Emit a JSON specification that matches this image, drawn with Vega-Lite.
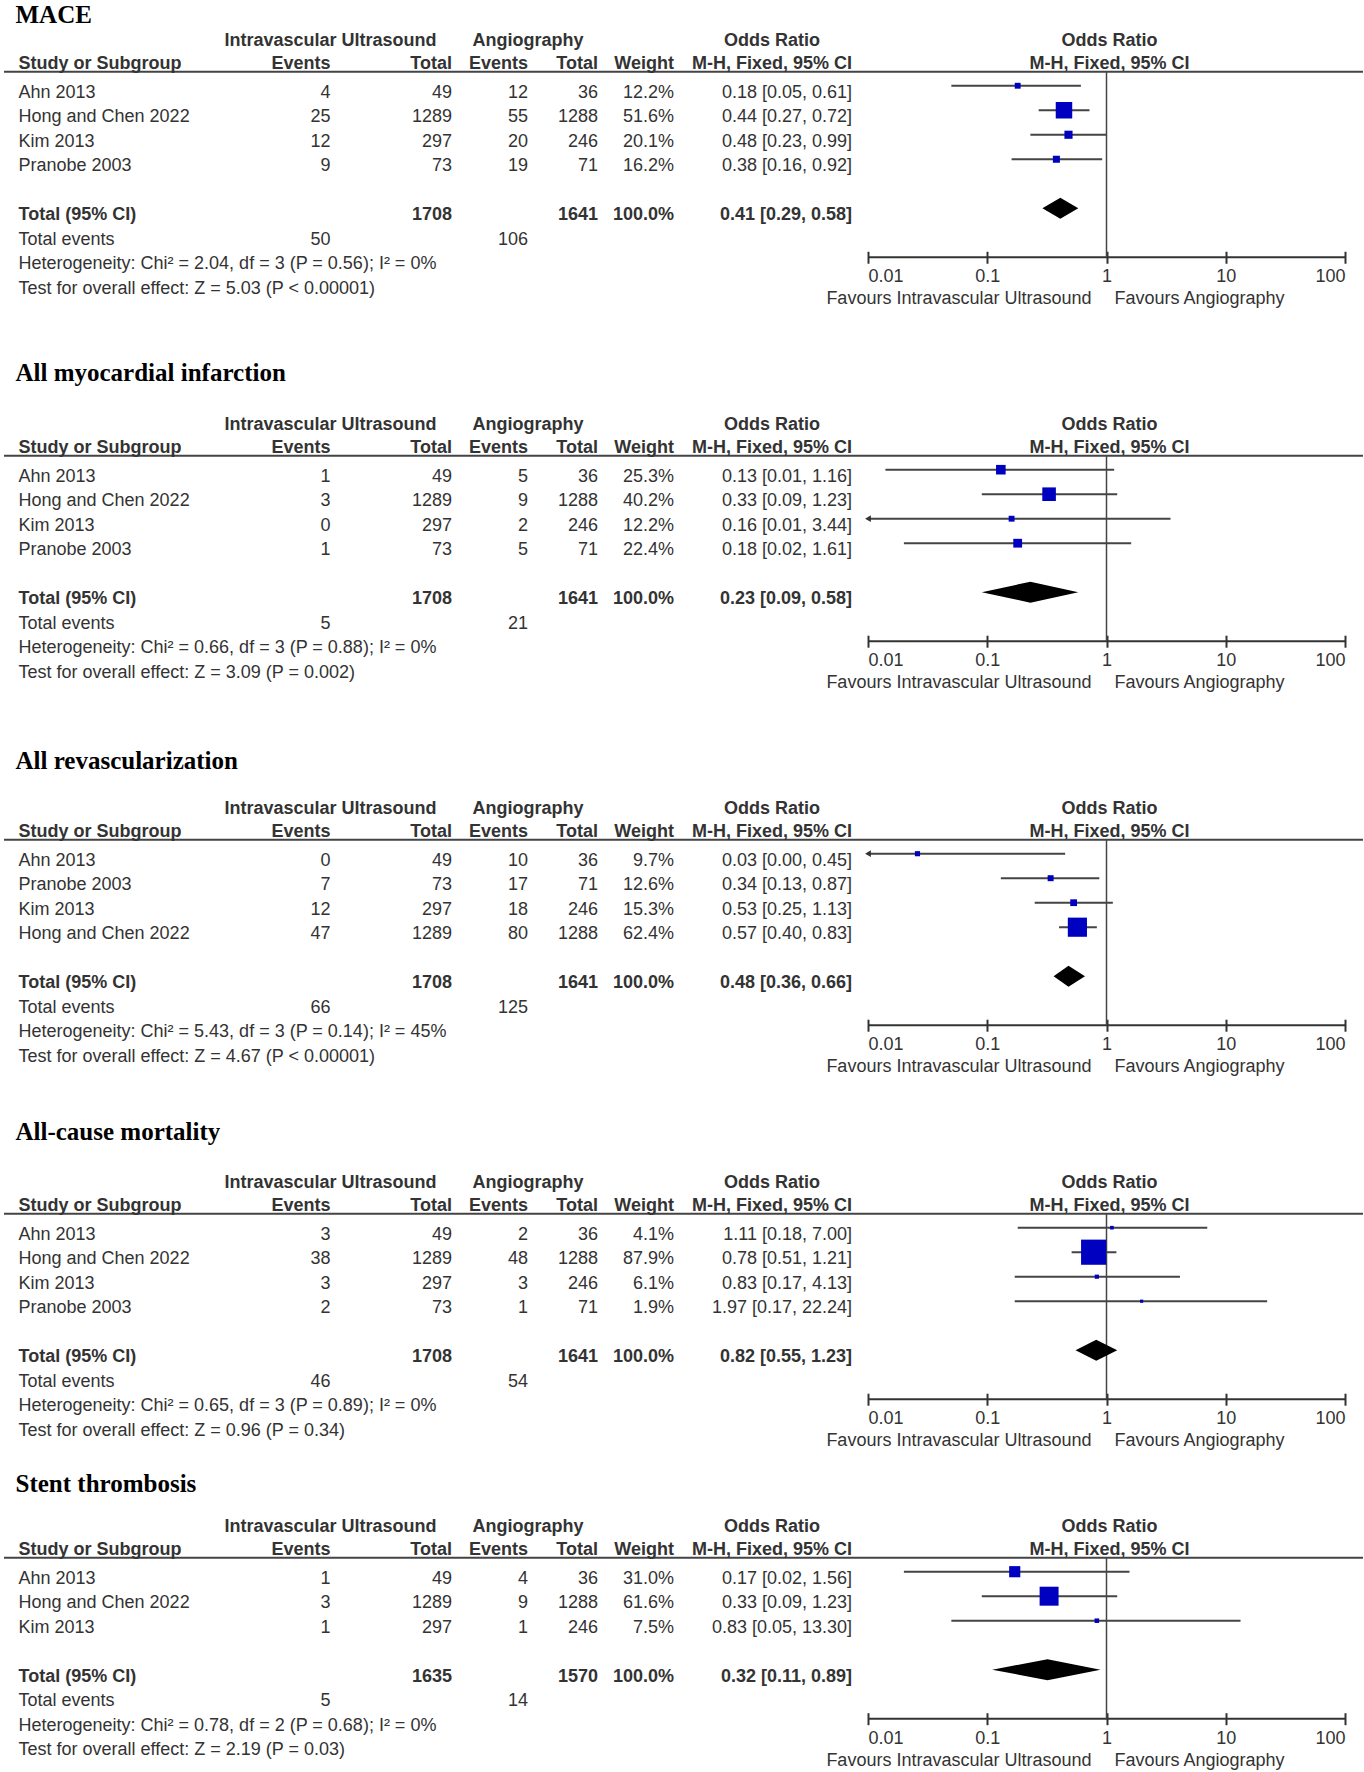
{
"$schema":"https://vega.github.io/schema/vega-lite/v6.json",
"padding":0,
"spacing":0,
"bounds":"flush",
"background":"white",
"config":{"view":{"stroke":null},"axis":{"grid":false},"text":{"font":"Liberation Sans","fontSize":18,"color":"#333","baseline":"alphabetic","dy":12,"align":"right"}},
"datasets":{
"headers":[
{"label":"Intravascular Ultrasound","col":2,"row":-2,"a":"c"},
{"label":"Angiography","col":4,"row":-2,"a":"c"},
{"label":"Odds Ratio","col":7,"row":-2,"a":"c"},
{"label":"M-H, Fixed, 95% CI","col":7,"row":-1,"a":"c"},
{"label":"Study or Subgroup","col":1,"row":-1,"a":"l"},
{"label":"Events","col":2,"row":-1,"a":"r"},
{"label":"Total","col":3,"row":-1,"a":"r"},
{"label":"Events","col":4,"row":-1,"a":"r"},
{"label":"Total","col":5,"row":-1,"a":"r"},
{"label":"Weight","col":6,"row":-1,"a":"r"},
{"label":"Odds Ratio","row":-2,"a":"f"},
{"label":"M-H, Fixed, 95% CI","row":-1,"a":"f"}
],
"rows":[
{"o":"MACE","k":"title","row":-3,"label":"MACE"},
{"o":"MACE","k":"study","row":0,"label":"Ahn 2013","e1":4,"n1":49,"e2":12,"n2":36,"wt":0.122,"ci":"0.18 [0.05, 0.61]","est":0.18,"lo":0.05,"hi":0.61},
{"o":"MACE","k":"study","row":1,"label":"Hong and Chen 2022","e1":25,"n1":1289,"e2":55,"n2":1288,"wt":0.516,"ci":"0.44 [0.27, 0.72]","est":0.44,"lo":0.27,"hi":0.72},
{"o":"MACE","k":"study","row":2,"label":"Kim 2013","e1":12,"n1":297,"e2":20,"n2":246,"wt":0.201,"ci":"0.48 [0.23, 0.99]","est":0.48,"lo":0.23,"hi":0.99},
{"o":"MACE","k":"study","row":3,"label":"Pranobe 2003","e1":9,"n1":73,"e2":19,"n2":71,"wt":0.162,"ci":"0.38 [0.16, 0.92]","est":0.38,"lo":0.16,"hi":0.92},
{"o":"MACE","k":"total","row":5,"label":"Total (95% CI)","n1":1708,"n2":1641,"wt":1,"ci":"0.41 [0.29, 0.58]","est":0.41,"lo":0.29,"hi":0.58},
{"o":"MACE","k":"events","row":6,"label":"Total events","e1":50,"e2":106},
{"o":"MACE","k":"note","row":7,"label":"Heterogeneity: Chi² = 2.04, df = 3 (P = 0.56); I² = 0%"},
{"o":"MACE","k":"note","row":8,"label":"Test for overall effect: Z = 5.03 (P < 0.00001)"},
{"o":"MI","k":"title","row":-3,"label":"All myocardial infarction"},
{"o":"MI","k":"study","row":0,"label":"Ahn 2013","e1":1,"n1":49,"e2":5,"n2":36,"wt":0.253,"ci":"0.13 [0.01, 1.16]","est":0.13,"lo":0.014,"hi":1.16},
{"o":"MI","k":"study","row":1,"label":"Hong and Chen 2022","e1":3,"n1":1289,"e2":9,"n2":1288,"wt":0.402,"ci":"0.33 [0.09, 1.23]","est":0.33,"lo":0.09,"hi":1.23},
{"o":"MI","k":"study","row":2,"label":"Kim 2013","e1":0,"n1":297,"e2":2,"n2":246,"wt":0.122,"ci":"0.16 [0.01, 3.44]","est":0.16,"lo":0.008,"hi":3.44},
{"o":"MI","k":"study","row":3,"label":"Pranobe 2003","e1":1,"n1":73,"e2":5,"n2":71,"wt":0.224,"ci":"0.18 [0.02, 1.61]","est":0.18,"lo":0.02,"hi":1.61},
{"o":"MI","k":"total","row":5,"label":"Total (95% CI)","n1":1708,"n2":1641,"wt":1,"ci":"0.23 [0.09, 0.58]","est":0.23,"lo":0.09,"hi":0.58},
{"o":"MI","k":"events","row":6,"label":"Total events","e1":5,"e2":21},
{"o":"MI","k":"note","row":7,"label":"Heterogeneity: Chi² = 0.66, df = 3 (P = 0.88); I² = 0%"},
{"o":"MI","k":"note","row":8,"label":"Test for overall effect: Z = 3.09 (P = 0.002)"},
{"o":"REV","k":"title","row":-3,"label":"All revascularization"},
{"o":"REV","k":"study","row":0,"label":"Ahn 2013","e1":0,"n1":49,"e2":10,"n2":36,"wt":0.097,"ci":"0.03 [0.00, 0.45]","est":0.026,"lo":0.0017,"hi":0.45},
{"o":"REV","k":"study","row":1,"label":"Pranobe 2003","e1":7,"n1":73,"e2":17,"n2":71,"wt":0.126,"ci":"0.34 [0.13, 0.87]","est":0.34,"lo":0.13,"hi":0.87},
{"o":"REV","k":"study","row":2,"label":"Kim 2013","e1":12,"n1":297,"e2":18,"n2":246,"wt":0.153,"ci":"0.53 [0.25, 1.13]","est":0.53,"lo":0.25,"hi":1.13},
{"o":"REV","k":"study","row":3,"label":"Hong and Chen 2022","e1":47,"n1":1289,"e2":80,"n2":1288,"wt":0.624,"ci":"0.57 [0.40, 0.83]","est":0.57,"lo":0.4,"hi":0.83},
{"o":"REV","k":"total","row":5,"label":"Total (95% CI)","n1":1708,"n2":1641,"wt":1,"ci":"0.48 [0.36, 0.66]","est":0.48,"lo":0.36,"hi":0.66},
{"o":"REV","k":"events","row":6,"label":"Total events","e1":66,"e2":125},
{"o":"REV","k":"note","row":7,"label":"Heterogeneity: Chi² = 5.43, df = 3 (P = 0.14); I² = 45%"},
{"o":"REV","k":"note","row":8,"label":"Test for overall effect: Z = 4.67 (P < 0.00001)"},
{"o":"MORT","k":"title","row":-3,"label":"All-cause mortality"},
{"o":"MORT","k":"study","row":0,"label":"Ahn 2013","e1":3,"n1":49,"e2":2,"n2":36,"wt":0.041,"ci":"1.11 [0.18, 7.00]","est":1.11,"lo":0.18,"hi":7.0},
{"o":"MORT","k":"study","row":1,"label":"Hong and Chen 2022","e1":38,"n1":1289,"e2":48,"n2":1288,"wt":0.879,"ci":"0.78 [0.51, 1.21]","est":0.78,"lo":0.51,"hi":1.21},
{"o":"MORT","k":"study","row":2,"label":"Kim 2013","e1":3,"n1":297,"e2":3,"n2":246,"wt":0.061,"ci":"0.83 [0.17, 4.13]","est":0.83,"lo":0.17,"hi":4.13},
{"o":"MORT","k":"study","row":3,"label":"Pranobe 2003","e1":2,"n1":73,"e2":1,"n2":71,"wt":0.019,"ci":"1.97 [0.17, 22.24]","est":1.97,"lo":0.17,"hi":22.24},
{"o":"MORT","k":"total","row":5,"label":"Total (95% CI)","n1":1708,"n2":1641,"wt":1,"ci":"0.82 [0.55, 1.23]","est":0.82,"lo":0.55,"hi":1.23},
{"o":"MORT","k":"events","row":6,"label":"Total events","e1":46,"e2":54},
{"o":"MORT","k":"note","row":7,"label":"Heterogeneity: Chi² = 0.65, df = 3 (P = 0.89); I² = 0%"},
{"o":"MORT","k":"note","row":8,"label":"Test for overall effect: Z = 0.96 (P = 0.34)"},
{"o":"ST","k":"title","row":-3,"label":"Stent thrombosis"},
{"o":"ST","k":"study","row":0,"label":"Ahn 2013","e1":1,"n1":49,"e2":4,"n2":36,"wt":0.31,"ci":"0.17 [0.02, 1.56]","est":0.17,"lo":0.02,"hi":1.56},
{"o":"ST","k":"study","row":1,"label":"Hong and Chen 2022","e1":3,"n1":1289,"e2":9,"n2":1288,"wt":0.616,"ci":"0.33 [0.09, 1.23]","est":0.33,"lo":0.09,"hi":1.23},
{"o":"ST","k":"study","row":2,"label":"Kim 2013","e1":1,"n1":297,"e2":1,"n2":246,"wt":0.075,"ci":"0.83 [0.05, 13.30]","est":0.83,"lo":0.05,"hi":13.3},
{"o":"ST","k":"total","row":4,"label":"Total (95% CI)","n1":1635,"n2":1570,"wt":1,"ci":"0.32 [0.11, 0.89]","est":0.32,"lo":0.11,"hi":0.89},
{"o":"ST","k":"events","row":5,"label":"Total events","e1":5,"e2":14},
{"o":"ST","k":"note","row":6,"label":"Heterogeneity: Chi² = 0.78, df = 2 (P = 0.68); I² = 0%"},
{"o":"ST","k":"note","row":7,"label":"Test for overall effect: Z = 2.19 (P = 0.03)"}
]
},
"vconcat":[
{"width":1364,"height":357,"data":{"name":"rows"},"transform":[{"filter":"datum.o==='MACE'"}],
"encoding":{"y":{"field":"row","type":"quantitative","axis":null,"scale":{"domain":[-4,-3,-2,-1,0,11.071],"range":[0,10.5,33.95,57.25,85.75,357],"nice":false,"zero":false}}},
"resolve":{"scale":{"x":"independent"}},
"layer":[
{"layer":[
{"transform":[{"filter":"datum.k==='title'"}],"mark":{"type":"rule","color":"#333","strokeWidth":2},"encoding":{"x":{"datum":0.01,"type":"quantitative","scale":{"type":"log","domain":[0.01,100],"range":[868,1345],"clamp":true,"nice":false},"axis":{"orient":"bottom","offset":-105.75,"values":[0.01,0.1,1,10,100],"format":"~g","domain":false,"ticks":true,"tickSize":12,"tickWidth":2,"tickColor":"#333","labels":true,"labelFlush":true,"labelFont":"Liberation Sans","labelFontSize":18,"labelColor":"#333","labelBaseline":"alphabetic","labelPadding":18.5,"title":null,"grid":false}},"x2":{"datum":100},"y":{"datum":7,"type":"quantitative","axis":null}}},
{"transform":[{"filter":"datum.k==='title'"}],"mark":{"type":"rule","color":"#444","strokeWidth":1.5},"encoding":{"x":{"datum":1,"type":"quantitative"},"y":{"datum":-0.488,"type":"quantitative","axis":null},"y2":{"datum":7}}},
{"transform":[{"filter":"datum.k==='study'"}],"mark":{"type":"rule","color":"#444","strokeWidth":2},"encoding":{"x":{"field":"lo","type":"quantitative","title":null},"x2":{"field":"hi"}}},
{"transform":[{"filter":"datum.k==='study'&&datum.lo<0.01"}],"mark":{"type":"point","shape":"triangle-left","filled":true,"color":"#333","opacity":1,"size":45},"encoding":{"x":{"field":"lo","type":"quantitative","title":null}}},
{"transform":[{"filter":"datum.k==='study'"}],"mark":{"type":"square","color":"#0000c0","opacity":1},"encoding":{"x":{"field":"est","type":"quantitative","title":null},"size":{"field":"wt","type":"quantitative","legend":null,"scale":{"type":"pow","exponent":1.62,"domain":[0,1],"range":[9,778]}}}},
{"transform":[{"filter":"datum.k==='total'"},{"fold":["lo","est","hi"]}],"mark":{"type":"area","color":"#000","opacity":1,"yOffset":{"expr":"datum.key==='est'?-10.5:0"},"y2Offset":{"expr":"datum.key==='est'?10.5:0"}},"encoding":{"x":{"field":"value","type":"quantitative","title":null},"y2":{"field":"row"}}},
{"transform":[{"filter":"datum.k==='title'"}],"mark":{"type":"text","dx":-15},"encoding":{"x":{"datum":1,"type":"quantitative"},"y":{"datum":8.43,"type":"quantitative","axis":null},"text":{"value":"Favours Intravascular Ultrasound"}}},
{"transform":[{"filter":"datum.k==='title'"}],"mark":{"type":"text","align":"left","dx":8},"encoding":{"x":{"datum":1,"type":"quantitative"},"y":{"datum":8.43,"type":"quantitative","axis":null},"text":{"value":"Favours Angiography"}}},
{"data":{"name":"headers"},"transform":[{"filter":"datum.a==='f'"}],"mark":{"type":"text","align":"center","fontWeight":"bold","dx":3},"encoding":{"x":{"datum":1,"type":"quantitative"},"text":{"field":"label"}}}
]},
{"layer":[
{"transform":[{"filter":"datum.k==='title'"}],"mark":{"type":"text","align":"left","font":"Liberation Serif","fontSize":25,"fontWeight":"bold","color":"#000","dx":-3},"encoding":{"x":{"datum":1,"type":"quantitative","axis":null,"scale":{"domain":[0,1,2,3,4,5,6,7,8,9],"range":[4,18.5,330.5,452,528,598,674,772,852,1363],"nice":false,"zero":false}},"text":{"field":"label"}}},
{"transform":[{"filter":"datum.k==='title'"}],"mark":{"type":"rule","color":"#444","strokeWidth":2},"encoding":{"x":{"datum":0,"type":"quantitative","axis":null},"x2":{"datum":9},"y":{"datum":-0.488,"type":"quantitative","axis":null}}},
{"data":{"name":"headers"},"transform":[{"filter":"datum.a==='c'"}],"mark":{"type":"text","align":"center","fontWeight":"bold"},"encoding":{"x":{"field":"col","type":"quantitative","axis":null},"text":{"field":"label"}}},
{"data":{"name":"headers"},"transform":[{"filter":"datum.a==='l'"}],"mark":{"type":"text","align":"left","fontWeight":"bold"},"encoding":{"x":{"field":"col","type":"quantitative","axis":null},"text":{"field":"label"}}},
{"data":{"name":"headers"},"transform":[{"filter":"datum.a==='r'"}],"mark":{"type":"text","fontWeight":"bold"},"encoding":{"x":{"field":"col","type":"quantitative","axis":null},"text":{"field":"label"}}},
{"transform":[{"filter":"datum.k==='study'||datum.k==='events'||datum.k==='note'"}],"mark":{"type":"text","align":"left"},"encoding":{"x":{"datum":1,"type":"quantitative","axis":null},"text":{"field":"label"}}},
{"transform":[{"filter":"datum.k==='total'"}],"mark":{"type":"text","align":"left","fontWeight":"bold"},"encoding":{"x":{"datum":1,"type":"quantitative","axis":null},"text":{"field":"label"}}},
{"transform":[{"filter":"isValid(datum.e1)"}],"mark":"text","encoding":{"x":{"datum":2,"type":"quantitative","axis":null},"text":{"field":"e1","type":"nominal"}}},
{"transform":[{"filter":"datum.k==='study'"}],"mark":"text","encoding":{"x":{"datum":3,"type":"quantitative","axis":null},"text":{"field":"n1","type":"nominal"}}},
{"transform":[{"filter":"isValid(datum.e2)"}],"mark":"text","encoding":{"x":{"datum":4,"type":"quantitative","axis":null},"text":{"field":"e2","type":"nominal"}}},
{"transform":[{"filter":"datum.k==='study'"}],"mark":"text","encoding":{"x":{"datum":5,"type":"quantitative","axis":null},"text":{"field":"n2","type":"nominal"}}},
{"transform":[{"filter":"datum.k==='study'"}],"mark":"text","encoding":{"x":{"datum":6,"type":"quantitative","axis":null},"text":{"field":"wt","type":"quantitative","format":".1%"}}},
{"transform":[{"filter":"datum.k==='study'"}],"mark":"text","encoding":{"x":{"datum":8,"type":"quantitative","axis":null},"text":{"field":"ci","type":"nominal"}}},
{"transform":[{"filter":"datum.k==='total'"}],"mark":{"type":"text","fontWeight":"bold"},"encoding":{"x":{"datum":3,"type":"quantitative","axis":null},"text":{"field":"n1","type":"nominal"}}},
{"transform":[{"filter":"datum.k==='total'"}],"mark":{"type":"text","fontWeight":"bold"},"encoding":{"x":{"datum":5,"type":"quantitative","axis":null},"text":{"field":"n2","type":"nominal"}}},
{"transform":[{"filter":"datum.k==='total'"}],"mark":{"type":"text","fontWeight":"bold"},"encoding":{"x":{"datum":6,"type":"quantitative","axis":null},"text":{"field":"wt","type":"quantitative","format":".1%"}}},
{"transform":[{"filter":"datum.k==='total'"}],"mark":{"type":"text","fontWeight":"bold"},"encoding":{"x":{"datum":8,"type":"quantitative","axis":null},"text":{"field":"ci","type":"nominal"}}}
]}
]},
{"width":1364,"height":384,"data":{"name":"rows"},"transform":[{"filter":"datum.o==='MI'"}],
"encoding":{"y":{"field":"row","type":"quantitative","axis":null,"scale":{"domain":[-5,-3,-2,-1,0,11.073],"range":[0,12.4,60.9,84.2,112.7,384],"nice":false,"zero":false}}},
"resolve":{"scale":{"x":"independent"}},
"layer":[
{"layer":[
{"transform":[{"filter":"datum.k==='title'"}],"mark":{"type":"rule","color":"#333","strokeWidth":2},"encoding":{"x":{"datum":0.01,"type":"quantitative","scale":{"type":"log","domain":[0.01,100],"range":[868,1345],"clamp":true,"nice":false},"axis":{"orient":"bottom","offset":-105.8,"values":[0.01,0.1,1,10,100],"format":"~g","domain":false,"ticks":true,"tickSize":12,"tickWidth":2,"tickColor":"#333","labels":true,"labelFlush":true,"labelFont":"Liberation Sans","labelFontSize":18,"labelColor":"#333","labelBaseline":"alphabetic","labelPadding":18.5,"title":null,"grid":false}},"x2":{"datum":100},"y":{"datum":7,"type":"quantitative","axis":null}}},
{"transform":[{"filter":"datum.k==='title'"}],"mark":{"type":"rule","color":"#444","strokeWidth":1.5},"encoding":{"x":{"datum":1,"type":"quantitative"},"y":{"datum":-0.488,"type":"quantitative","axis":null},"y2":{"datum":7}}},
{"transform":[{"filter":"datum.k==='study'"}],"mark":{"type":"rule","color":"#444","strokeWidth":2},"encoding":{"x":{"field":"lo","type":"quantitative","title":null},"x2":{"field":"hi"}}},
{"transform":[{"filter":"datum.k==='study'&&datum.lo<0.01"}],"mark":{"type":"point","shape":"triangle-left","filled":true,"color":"#333","opacity":1,"size":45},"encoding":{"x":{"field":"lo","type":"quantitative","title":null}}},
{"transform":[{"filter":"datum.k==='study'"}],"mark":{"type":"square","color":"#0000c0","opacity":1},"encoding":{"x":{"field":"est","type":"quantitative","title":null},"size":{"field":"wt","type":"quantitative","legend":null,"scale":{"type":"pow","exponent":1.62,"domain":[0,1],"range":[9,778]}}}},
{"transform":[{"filter":"datum.k==='total'"},{"fold":["lo","est","hi"]}],"mark":{"type":"area","color":"#000","opacity":1,"yOffset":{"expr":"datum.key==='est'?-10.5:0"},"y2Offset":{"expr":"datum.key==='est'?10.5:0"}},"encoding":{"x":{"field":"value","type":"quantitative","title":null},"y2":{"field":"row"}}},
{"transform":[{"filter":"datum.k==='title'"}],"mark":{"type":"text","dx":-15},"encoding":{"x":{"datum":1,"type":"quantitative"},"y":{"datum":8.43,"type":"quantitative","axis":null},"text":{"value":"Favours Intravascular Ultrasound"}}},
{"transform":[{"filter":"datum.k==='title'"}],"mark":{"type":"text","align":"left","dx":8},"encoding":{"x":{"datum":1,"type":"quantitative"},"y":{"datum":8.43,"type":"quantitative","axis":null},"text":{"value":"Favours Angiography"}}},
{"data":{"name":"headers"},"transform":[{"filter":"datum.a==='f'"}],"mark":{"type":"text","align":"center","fontWeight":"bold","dx":3},"encoding":{"x":{"datum":1,"type":"quantitative"},"text":{"field":"label"}}}
]},
{"layer":[
{"transform":[{"filter":"datum.k==='title'"}],"mark":{"type":"text","align":"left","font":"Liberation Serif","fontSize":25,"fontWeight":"bold","color":"#000","dx":-3},"encoding":{"x":{"datum":1,"type":"quantitative","axis":null,"scale":{"domain":[0,1,2,3,4,5,6,7,8,9],"range":[4,18.5,330.5,452,528,598,674,772,852,1363],"nice":false,"zero":false}},"text":{"field":"label"}}},
{"transform":[{"filter":"datum.k==='title'"}],"mark":{"type":"rule","color":"#444","strokeWidth":2},"encoding":{"x":{"datum":0,"type":"quantitative","axis":null},"x2":{"datum":9},"y":{"datum":-0.488,"type":"quantitative","axis":null}}},
{"data":{"name":"headers"},"transform":[{"filter":"datum.a==='c'"}],"mark":{"type":"text","align":"center","fontWeight":"bold"},"encoding":{"x":{"field":"col","type":"quantitative","axis":null},"text":{"field":"label"}}},
{"data":{"name":"headers"},"transform":[{"filter":"datum.a==='l'"}],"mark":{"type":"text","align":"left","fontWeight":"bold"},"encoding":{"x":{"field":"col","type":"quantitative","axis":null},"text":{"field":"label"}}},
{"data":{"name":"headers"},"transform":[{"filter":"datum.a==='r'"}],"mark":{"type":"text","fontWeight":"bold"},"encoding":{"x":{"field":"col","type":"quantitative","axis":null},"text":{"field":"label"}}},
{"transform":[{"filter":"datum.k==='study'||datum.k==='events'||datum.k==='note'"}],"mark":{"type":"text","align":"left"},"encoding":{"x":{"datum":1,"type":"quantitative","axis":null},"text":{"field":"label"}}},
{"transform":[{"filter":"datum.k==='total'"}],"mark":{"type":"text","align":"left","fontWeight":"bold"},"encoding":{"x":{"datum":1,"type":"quantitative","axis":null},"text":{"field":"label"}}},
{"transform":[{"filter":"isValid(datum.e1)"}],"mark":"text","encoding":{"x":{"datum":2,"type":"quantitative","axis":null},"text":{"field":"e1","type":"nominal"}}},
{"transform":[{"filter":"datum.k==='study'"}],"mark":"text","encoding":{"x":{"datum":3,"type":"quantitative","axis":null},"text":{"field":"n1","type":"nominal"}}},
{"transform":[{"filter":"isValid(datum.e2)"}],"mark":"text","encoding":{"x":{"datum":4,"type":"quantitative","axis":null},"text":{"field":"e2","type":"nominal"}}},
{"transform":[{"filter":"datum.k==='study'"}],"mark":"text","encoding":{"x":{"datum":5,"type":"quantitative","axis":null},"text":{"field":"n2","type":"nominal"}}},
{"transform":[{"filter":"datum.k==='study'"}],"mark":"text","encoding":{"x":{"datum":6,"type":"quantitative","axis":null},"text":{"field":"wt","type":"quantitative","format":".1%"}}},
{"transform":[{"filter":"datum.k==='study'"}],"mark":"text","encoding":{"x":{"datum":8,"type":"quantitative","axis":null},"text":{"field":"ci","type":"nominal"}}},
{"transform":[{"filter":"datum.k==='total'"}],"mark":{"type":"text","fontWeight":"bold"},"encoding":{"x":{"datum":3,"type":"quantitative","axis":null},"text":{"field":"n1","type":"nominal"}}},
{"transform":[{"filter":"datum.k==='total'"}],"mark":{"type":"text","fontWeight":"bold"},"encoding":{"x":{"datum":5,"type":"quantitative","axis":null},"text":{"field":"n2","type":"nominal"}}},
{"transform":[{"filter":"datum.k==='total'"}],"mark":{"type":"text","fontWeight":"bold"},"encoding":{"x":{"datum":6,"type":"quantitative","axis":null},"text":{"field":"wt","type":"quantitative","format":".1%"}}},
{"transform":[{"filter":"datum.k==='total'"}],"mark":{"type":"text","fontWeight":"bold"},"encoding":{"x":{"datum":8,"type":"quantitative","axis":null},"text":{"field":"ci","type":"nominal"}}}
]}
]},
{"width":1364,"height":374,"data":{"name":"rows"},"transform":[{"filter":"datum.o==='REV'"}],
"encoding":{"y":{"field":"row","type":"quantitative","axis":null,"scale":{"domain":[-5,-3,-2,-1,0,10.665],"range":[0,15.7,60.9,84.2,112.7,374],"nice":false,"zero":false}}},
"resolve":{"scale":{"x":"independent"}},
"layer":[
{"layer":[
{"transform":[{"filter":"datum.k==='title'"}],"mark":{"type":"rule","color":"#333","strokeWidth":2},"encoding":{"x":{"datum":0.01,"type":"quantitative","scale":{"type":"log","domain":[0.01,100],"range":[868,1345],"clamp":true,"nice":false},"axis":{"orient":"bottom","offset":-95.8,"values":[0.01,0.1,1,10,100],"format":"~g","domain":false,"ticks":true,"tickSize":12,"tickWidth":2,"tickColor":"#333","labels":true,"labelFlush":true,"labelFont":"Liberation Sans","labelFontSize":18,"labelColor":"#333","labelBaseline":"alphabetic","labelPadding":18.5,"title":null,"grid":false}},"x2":{"datum":100},"y":{"datum":7,"type":"quantitative","axis":null}}},
{"transform":[{"filter":"datum.k==='title'"}],"mark":{"type":"rule","color":"#444","strokeWidth":1.5},"encoding":{"x":{"datum":1,"type":"quantitative"},"y":{"datum":-0.488,"type":"quantitative","axis":null},"y2":{"datum":7}}},
{"transform":[{"filter":"datum.k==='study'"}],"mark":{"type":"rule","color":"#444","strokeWidth":2},"encoding":{"x":{"field":"lo","type":"quantitative","title":null},"x2":{"field":"hi"}}},
{"transform":[{"filter":"datum.k==='study'&&datum.lo<0.01"}],"mark":{"type":"point","shape":"triangle-left","filled":true,"color":"#333","opacity":1,"size":45},"encoding":{"x":{"field":"lo","type":"quantitative","title":null}}},
{"transform":[{"filter":"datum.k==='study'"}],"mark":{"type":"square","color":"#0000c0","opacity":1},"encoding":{"x":{"field":"est","type":"quantitative","title":null},"size":{"field":"wt","type":"quantitative","legend":null,"scale":{"type":"pow","exponent":1.62,"domain":[0,1],"range":[9,778]}}}},
{"transform":[{"filter":"datum.k==='total'"},{"fold":["lo","est","hi"]}],"mark":{"type":"area","color":"#000","opacity":1,"yOffset":{"expr":"datum.key==='est'?-10.5:0"},"y2Offset":{"expr":"datum.key==='est'?10.5:0"}},"encoding":{"x":{"field":"value","type":"quantitative","title":null},"y2":{"field":"row"}}},
{"transform":[{"filter":"datum.k==='title'"}],"mark":{"type":"text","dx":-15},"encoding":{"x":{"datum":1,"type":"quantitative"},"y":{"datum":8.43,"type":"quantitative","axis":null},"text":{"value":"Favours Intravascular Ultrasound"}}},
{"transform":[{"filter":"datum.k==='title'"}],"mark":{"type":"text","align":"left","dx":8},"encoding":{"x":{"datum":1,"type":"quantitative"},"y":{"datum":8.43,"type":"quantitative","axis":null},"text":{"value":"Favours Angiography"}}},
{"data":{"name":"headers"},"transform":[{"filter":"datum.a==='f'"}],"mark":{"type":"text","align":"center","fontWeight":"bold","dx":3},"encoding":{"x":{"datum":1,"type":"quantitative"},"text":{"field":"label"}}}
]},
{"layer":[
{"transform":[{"filter":"datum.k==='title'"}],"mark":{"type":"text","align":"left","font":"Liberation Serif","fontSize":25,"fontWeight":"bold","color":"#000","dx":-3},"encoding":{"x":{"datum":1,"type":"quantitative","axis":null,"scale":{"domain":[0,1,2,3,4,5,6,7,8,9],"range":[4,18.5,330.5,452,528,598,674,772,852,1363],"nice":false,"zero":false}},"text":{"field":"label"}}},
{"transform":[{"filter":"datum.k==='title'"}],"mark":{"type":"rule","color":"#444","strokeWidth":2},"encoding":{"x":{"datum":0,"type":"quantitative","axis":null},"x2":{"datum":9},"y":{"datum":-0.488,"type":"quantitative","axis":null}}},
{"data":{"name":"headers"},"transform":[{"filter":"datum.a==='c'"}],"mark":{"type":"text","align":"center","fontWeight":"bold"},"encoding":{"x":{"field":"col","type":"quantitative","axis":null},"text":{"field":"label"}}},
{"data":{"name":"headers"},"transform":[{"filter":"datum.a==='l'"}],"mark":{"type":"text","align":"left","fontWeight":"bold"},"encoding":{"x":{"field":"col","type":"quantitative","axis":null},"text":{"field":"label"}}},
{"data":{"name":"headers"},"transform":[{"filter":"datum.a==='r'"}],"mark":{"type":"text","fontWeight":"bold"},"encoding":{"x":{"field":"col","type":"quantitative","axis":null},"text":{"field":"label"}}},
{"transform":[{"filter":"datum.k==='study'||datum.k==='events'||datum.k==='note'"}],"mark":{"type":"text","align":"left"},"encoding":{"x":{"datum":1,"type":"quantitative","axis":null},"text":{"field":"label"}}},
{"transform":[{"filter":"datum.k==='total'"}],"mark":{"type":"text","align":"left","fontWeight":"bold"},"encoding":{"x":{"datum":1,"type":"quantitative","axis":null},"text":{"field":"label"}}},
{"transform":[{"filter":"isValid(datum.e1)"}],"mark":"text","encoding":{"x":{"datum":2,"type":"quantitative","axis":null},"text":{"field":"e1","type":"nominal"}}},
{"transform":[{"filter":"datum.k==='study'"}],"mark":"text","encoding":{"x":{"datum":3,"type":"quantitative","axis":null},"text":{"field":"n1","type":"nominal"}}},
{"transform":[{"filter":"isValid(datum.e2)"}],"mark":"text","encoding":{"x":{"datum":4,"type":"quantitative","axis":null},"text":{"field":"e2","type":"nominal"}}},
{"transform":[{"filter":"datum.k==='study'"}],"mark":"text","encoding":{"x":{"datum":5,"type":"quantitative","axis":null},"text":{"field":"n2","type":"nominal"}}},
{"transform":[{"filter":"datum.k==='study'"}],"mark":"text","encoding":{"x":{"datum":6,"type":"quantitative","axis":null},"text":{"field":"wt","type":"quantitative","format":".1%"}}},
{"transform":[{"filter":"datum.k==='study'"}],"mark":"text","encoding":{"x":{"datum":8,"type":"quantitative","axis":null},"text":{"field":"ci","type":"nominal"}}},
{"transform":[{"filter":"datum.k==='total'"}],"mark":{"type":"text","fontWeight":"bold"},"encoding":{"x":{"datum":3,"type":"quantitative","axis":null},"text":{"field":"n1","type":"nominal"}}},
{"transform":[{"filter":"datum.k==='total'"}],"mark":{"type":"text","fontWeight":"bold"},"encoding":{"x":{"datum":5,"type":"quantitative","axis":null},"text":{"field":"n2","type":"nominal"}}},
{"transform":[{"filter":"datum.k==='total'"}],"mark":{"type":"text","fontWeight":"bold"},"encoding":{"x":{"datum":6,"type":"quantitative","axis":null},"text":{"field":"wt","type":"quantitative","format":".1%"}}},
{"transform":[{"filter":"datum.k==='total'"}],"mark":{"type":"text","fontWeight":"bold"},"encoding":{"x":{"datum":8,"type":"quantitative","axis":null},"text":{"field":"ci","type":"nominal"}}}
]}
]},
{"width":1364,"height":344,"data":{"name":"rows"},"transform":[{"filter":"datum.o==='MORT'"}],
"encoding":{"y":{"field":"row","type":"quantitative","axis":null,"scale":{"domain":[-5,-3,-2,-1,0,9.441],"range":[0,13.1,60.9,84.2,112.7,344],"nice":false,"zero":false}}},
"resolve":{"scale":{"x":"independent"}},
"layer":[
{"layer":[
{"transform":[{"filter":"datum.k==='title'"}],"mark":{"type":"rule","color":"#333","strokeWidth":2},"encoding":{"x":{"datum":0.01,"type":"quantitative","scale":{"type":"log","domain":[0.01,100],"range":[868,1345],"clamp":true,"nice":false},"axis":{"orient":"bottom","offset":-65.8,"values":[0.01,0.1,1,10,100],"format":"~g","domain":false,"ticks":true,"tickSize":12,"tickWidth":2,"tickColor":"#333","labels":true,"labelFlush":true,"labelFont":"Liberation Sans","labelFontSize":18,"labelColor":"#333","labelBaseline":"alphabetic","labelPadding":18.5,"title":null,"grid":false}},"x2":{"datum":100},"y":{"datum":7,"type":"quantitative","axis":null}}},
{"transform":[{"filter":"datum.k==='title'"}],"mark":{"type":"rule","color":"#444","strokeWidth":1.5},"encoding":{"x":{"datum":1,"type":"quantitative"},"y":{"datum":-0.488,"type":"quantitative","axis":null},"y2":{"datum":7}}},
{"transform":[{"filter":"datum.k==='study'"}],"mark":{"type":"rule","color":"#444","strokeWidth":2},"encoding":{"x":{"field":"lo","type":"quantitative","title":null},"x2":{"field":"hi"}}},
{"transform":[{"filter":"datum.k==='study'&&datum.lo<0.01"}],"mark":{"type":"point","shape":"triangle-left","filled":true,"color":"#333","opacity":1,"size":45},"encoding":{"x":{"field":"lo","type":"quantitative","title":null}}},
{"transform":[{"filter":"datum.k==='study'"}],"mark":{"type":"square","color":"#0000c0","opacity":1},"encoding":{"x":{"field":"est","type":"quantitative","title":null},"size":{"field":"wt","type":"quantitative","legend":null,"scale":{"type":"pow","exponent":1.62,"domain":[0,1],"range":[9,778]}}}},
{"transform":[{"filter":"datum.k==='total'"},{"fold":["lo","est","hi"]}],"mark":{"type":"area","color":"#000","opacity":1,"yOffset":{"expr":"datum.key==='est'?-10.5:0"},"y2Offset":{"expr":"datum.key==='est'?10.5:0"}},"encoding":{"x":{"field":"value","type":"quantitative","title":null},"y2":{"field":"row"}}},
{"transform":[{"filter":"datum.k==='title'"}],"mark":{"type":"text","dx":-15},"encoding":{"x":{"datum":1,"type":"quantitative"},"y":{"datum":8.43,"type":"quantitative","axis":null},"text":{"value":"Favours Intravascular Ultrasound"}}},
{"transform":[{"filter":"datum.k==='title'"}],"mark":{"type":"text","align":"left","dx":8},"encoding":{"x":{"datum":1,"type":"quantitative"},"y":{"datum":8.43,"type":"quantitative","axis":null},"text":{"value":"Favours Angiography"}}},
{"data":{"name":"headers"},"transform":[{"filter":"datum.a==='f'"}],"mark":{"type":"text","align":"center","fontWeight":"bold","dx":3},"encoding":{"x":{"datum":1,"type":"quantitative"},"text":{"field":"label"}}}
]},
{"layer":[
{"transform":[{"filter":"datum.k==='title'"}],"mark":{"type":"text","align":"left","font":"Liberation Serif","fontSize":25,"fontWeight":"bold","color":"#000","dx":-3},"encoding":{"x":{"datum":1,"type":"quantitative","axis":null,"scale":{"domain":[0,1,2,3,4,5,6,7,8,9],"range":[4,18.5,330.5,452,528,598,674,772,852,1363],"nice":false,"zero":false}},"text":{"field":"label"}}},
{"transform":[{"filter":"datum.k==='title'"}],"mark":{"type":"rule","color":"#444","strokeWidth":2},"encoding":{"x":{"datum":0,"type":"quantitative","axis":null},"x2":{"datum":9},"y":{"datum":-0.488,"type":"quantitative","axis":null}}},
{"data":{"name":"headers"},"transform":[{"filter":"datum.a==='c'"}],"mark":{"type":"text","align":"center","fontWeight":"bold"},"encoding":{"x":{"field":"col","type":"quantitative","axis":null},"text":{"field":"label"}}},
{"data":{"name":"headers"},"transform":[{"filter":"datum.a==='l'"}],"mark":{"type":"text","align":"left","fontWeight":"bold"},"encoding":{"x":{"field":"col","type":"quantitative","axis":null},"text":{"field":"label"}}},
{"data":{"name":"headers"},"transform":[{"filter":"datum.a==='r'"}],"mark":{"type":"text","fontWeight":"bold"},"encoding":{"x":{"field":"col","type":"quantitative","axis":null},"text":{"field":"label"}}},
{"transform":[{"filter":"datum.k==='study'||datum.k==='events'||datum.k==='note'"}],"mark":{"type":"text","align":"left"},"encoding":{"x":{"datum":1,"type":"quantitative","axis":null},"text":{"field":"label"}}},
{"transform":[{"filter":"datum.k==='total'"}],"mark":{"type":"text","align":"left","fontWeight":"bold"},"encoding":{"x":{"datum":1,"type":"quantitative","axis":null},"text":{"field":"label"}}},
{"transform":[{"filter":"isValid(datum.e1)"}],"mark":"text","encoding":{"x":{"datum":2,"type":"quantitative","axis":null},"text":{"field":"e1","type":"nominal"}}},
{"transform":[{"filter":"datum.k==='study'"}],"mark":"text","encoding":{"x":{"datum":3,"type":"quantitative","axis":null},"text":{"field":"n1","type":"nominal"}}},
{"transform":[{"filter":"isValid(datum.e2)"}],"mark":"text","encoding":{"x":{"datum":4,"type":"quantitative","axis":null},"text":{"field":"e2","type":"nominal"}}},
{"transform":[{"filter":"datum.k==='study'"}],"mark":"text","encoding":{"x":{"datum":5,"type":"quantitative","axis":null},"text":{"field":"n2","type":"nominal"}}},
{"transform":[{"filter":"datum.k==='study'"}],"mark":"text","encoding":{"x":{"datum":6,"type":"quantitative","axis":null},"text":{"field":"wt","type":"quantitative","format":".1%"}}},
{"transform":[{"filter":"datum.k==='study'"}],"mark":"text","encoding":{"x":{"datum":8,"type":"quantitative","axis":null},"text":{"field":"ci","type":"nominal"}}},
{"transform":[{"filter":"datum.k==='total'"}],"mark":{"type":"text","fontWeight":"bold"},"encoding":{"x":{"datum":3,"type":"quantitative","axis":null},"text":{"field":"n1","type":"nominal"}}},
{"transform":[{"filter":"datum.k==='total'"}],"mark":{"type":"text","fontWeight":"bold"},"encoding":{"x":{"datum":5,"type":"quantitative","axis":null},"text":{"field":"n2","type":"nominal"}}},
{"transform":[{"filter":"datum.k==='total'"}],"mark":{"type":"text","fontWeight":"bold"},"encoding":{"x":{"datum":6,"type":"quantitative","axis":null},"text":{"field":"wt","type":"quantitative","format":".1%"}}},
{"transform":[{"filter":"datum.k==='total'"}],"mark":{"type":"text","fontWeight":"bold"},"encoding":{"x":{"datum":8,"type":"quantitative","axis":null},"text":{"field":"ci","type":"nominal"}}}
]}
]},
{"width":1364,"height":313,"data":{"name":"rows"},"transform":[{"filter":"datum.o==='ST'"}],
"encoding":{"y":{"field":"row","type":"quantitative","axis":null,"scale":{"domain":[-5,-3,-2,-1,0,8.176],"range":[0,20.7,60.9,84.2,112.7,313],"nice":false,"zero":false}}},
"resolve":{"scale":{"x":"independent"}},
"layer":[
{"layer":[
{"transform":[{"filter":"datum.k==='title'"}],"mark":{"type":"rule","color":"#333","strokeWidth":2},"encoding":{"x":{"datum":0.01,"type":"quantitative","scale":{"type":"log","domain":[0.01,100],"range":[868,1345],"clamp":true,"nice":false},"axis":{"orient":"bottom","offset":-59.3,"values":[0.01,0.1,1,10,100],"format":"~g","domain":false,"ticks":true,"tickSize":12,"tickWidth":2,"tickColor":"#333","labels":true,"labelFlush":true,"labelFont":"Liberation Sans","labelFontSize":18,"labelColor":"#333","labelBaseline":"alphabetic","labelPadding":18.5,"title":null,"grid":false}},"x2":{"datum":100},"y":{"datum":6,"type":"quantitative","axis":null}}},
{"transform":[{"filter":"datum.k==='title'"}],"mark":{"type":"rule","color":"#444","strokeWidth":1.5},"encoding":{"x":{"datum":1,"type":"quantitative"},"y":{"datum":-0.488,"type":"quantitative","axis":null},"y2":{"datum":6}}},
{"transform":[{"filter":"datum.k==='study'"}],"mark":{"type":"rule","color":"#444","strokeWidth":2},"encoding":{"x":{"field":"lo","type":"quantitative","title":null},"x2":{"field":"hi"}}},
{"transform":[{"filter":"datum.k==='study'&&datum.lo<0.01"}],"mark":{"type":"point","shape":"triangle-left","filled":true,"color":"#333","opacity":1,"size":45},"encoding":{"x":{"field":"lo","type":"quantitative","title":null}}},
{"transform":[{"filter":"datum.k==='study'"}],"mark":{"type":"square","color":"#0000c0","opacity":1},"encoding":{"x":{"field":"est","type":"quantitative","title":null},"size":{"field":"wt","type":"quantitative","legend":null,"scale":{"type":"pow","exponent":1.62,"domain":[0,1],"range":[9,778]}}}},
{"transform":[{"filter":"datum.k==='total'"},{"fold":["lo","est","hi"]}],"mark":{"type":"area","color":"#000","opacity":1,"yOffset":{"expr":"datum.key==='est'?-10.5:0"},"y2Offset":{"expr":"datum.key==='est'?10.5:0"}},"encoding":{"x":{"field":"value","type":"quantitative","title":null},"y2":{"field":"row"}}},
{"transform":[{"filter":"datum.k==='title'"}],"mark":{"type":"text","dx":-15},"encoding":{"x":{"datum":1,"type":"quantitative"},"y":{"datum":7.43,"type":"quantitative","axis":null},"text":{"value":"Favours Intravascular Ultrasound"}}},
{"transform":[{"filter":"datum.k==='title'"}],"mark":{"type":"text","align":"left","dx":8},"encoding":{"x":{"datum":1,"type":"quantitative"},"y":{"datum":7.43,"type":"quantitative","axis":null},"text":{"value":"Favours Angiography"}}},
{"data":{"name":"headers"},"transform":[{"filter":"datum.a==='f'"}],"mark":{"type":"text","align":"center","fontWeight":"bold","dx":3},"encoding":{"x":{"datum":1,"type":"quantitative"},"text":{"field":"label"}}}
]},
{"layer":[
{"transform":[{"filter":"datum.k==='title'"}],"mark":{"type":"text","align":"left","font":"Liberation Serif","fontSize":25,"fontWeight":"bold","color":"#000","dx":-3},"encoding":{"x":{"datum":1,"type":"quantitative","axis":null,"scale":{"domain":[0,1,2,3,4,5,6,7,8,9],"range":[4,18.5,330.5,452,528,598,674,772,852,1363],"nice":false,"zero":false}},"text":{"field":"label"}}},
{"transform":[{"filter":"datum.k==='title'"}],"mark":{"type":"rule","color":"#444","strokeWidth":2},"encoding":{"x":{"datum":0,"type":"quantitative","axis":null},"x2":{"datum":9},"y":{"datum":-0.488,"type":"quantitative","axis":null}}},
{"data":{"name":"headers"},"transform":[{"filter":"datum.a==='c'"}],"mark":{"type":"text","align":"center","fontWeight":"bold"},"encoding":{"x":{"field":"col","type":"quantitative","axis":null},"text":{"field":"label"}}},
{"data":{"name":"headers"},"transform":[{"filter":"datum.a==='l'"}],"mark":{"type":"text","align":"left","fontWeight":"bold"},"encoding":{"x":{"field":"col","type":"quantitative","axis":null},"text":{"field":"label"}}},
{"data":{"name":"headers"},"transform":[{"filter":"datum.a==='r'"}],"mark":{"type":"text","fontWeight":"bold"},"encoding":{"x":{"field":"col","type":"quantitative","axis":null},"text":{"field":"label"}}},
{"transform":[{"filter":"datum.k==='study'||datum.k==='events'||datum.k==='note'"}],"mark":{"type":"text","align":"left"},"encoding":{"x":{"datum":1,"type":"quantitative","axis":null},"text":{"field":"label"}}},
{"transform":[{"filter":"datum.k==='total'"}],"mark":{"type":"text","align":"left","fontWeight":"bold"},"encoding":{"x":{"datum":1,"type":"quantitative","axis":null},"text":{"field":"label"}}},
{"transform":[{"filter":"isValid(datum.e1)"}],"mark":"text","encoding":{"x":{"datum":2,"type":"quantitative","axis":null},"text":{"field":"e1","type":"nominal"}}},
{"transform":[{"filter":"datum.k==='study'"}],"mark":"text","encoding":{"x":{"datum":3,"type":"quantitative","axis":null},"text":{"field":"n1","type":"nominal"}}},
{"transform":[{"filter":"isValid(datum.e2)"}],"mark":"text","encoding":{"x":{"datum":4,"type":"quantitative","axis":null},"text":{"field":"e2","type":"nominal"}}},
{"transform":[{"filter":"datum.k==='study'"}],"mark":"text","encoding":{"x":{"datum":5,"type":"quantitative","axis":null},"text":{"field":"n2","type":"nominal"}}},
{"transform":[{"filter":"datum.k==='study'"}],"mark":"text","encoding":{"x":{"datum":6,"type":"quantitative","axis":null},"text":{"field":"wt","type":"quantitative","format":".1%"}}},
{"transform":[{"filter":"datum.k==='study'"}],"mark":"text","encoding":{"x":{"datum":8,"type":"quantitative","axis":null},"text":{"field":"ci","type":"nominal"}}},
{"transform":[{"filter":"datum.k==='total'"}],"mark":{"type":"text","fontWeight":"bold"},"encoding":{"x":{"datum":3,"type":"quantitative","axis":null},"text":{"field":"n1","type":"nominal"}}},
{"transform":[{"filter":"datum.k==='total'"}],"mark":{"type":"text","fontWeight":"bold"},"encoding":{"x":{"datum":5,"type":"quantitative","axis":null},"text":{"field":"n2","type":"nominal"}}},
{"transform":[{"filter":"datum.k==='total'"}],"mark":{"type":"text","fontWeight":"bold"},"encoding":{"x":{"datum":6,"type":"quantitative","axis":null},"text":{"field":"wt","type":"quantitative","format":".1%"}}},
{"transform":[{"filter":"datum.k==='total'"}],"mark":{"type":"text","fontWeight":"bold"},"encoding":{"x":{"datum":8,"type":"quantitative","axis":null},"text":{"field":"ci","type":"nominal"}}}
]}
]}
]
}
